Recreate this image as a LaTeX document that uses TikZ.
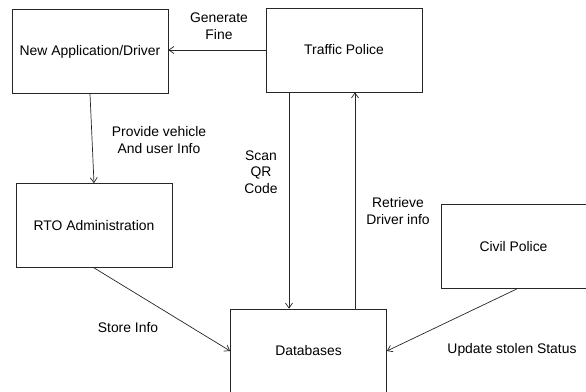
\documentclass[tikz,border=0pt]{standalone}
\usepackage{fontspec}
\setmainfont{Liberation Sans}
\usetikzlibrary{arrows.meta}
\begin{document}
\begin{tikzpicture}[x=1pt,y=-1pt,
  box/.style={draw=black!85,line width=0.7pt,minimum width=156pt,minimum height=84pt,inner sep=0pt,font=\fontsize{13.9}{16.5}\selectfont},
  lbl/.style={align=center,inner sep=0pt,font=\fontsize{13.9}{16.5}\selectfont},
  conn/.style={draw=black!85,line width=0.7pt,-{Straight Barb[length=5pt,width=7pt]}}]
\clip (0,0) rectangle (586,391);
\fill[white] (0,0) rectangle (586,391);
\node[box] (na) at (90,51.5) {New Application/Driver};
\node[box] (tp) at (344,50) {Traffic Police};
\node[box] (rto) at (94,225.5) {RTO Administration};
\node[box] (db) at (308.5,351) {Databases};
\node[box,minimum width=145pt] (cp) at (513.5,246.5) {Civil Police};
\draw[conn] (tp.west) -- (na.east |- tp.west);
\draw[conn] (na.south) -- (rto.north);
\draw[conn] (rto.south) -- (db.west);
\draw[conn] ([xshift=-55pt]tp.south) -- ([xshift=-19.5pt]db.north);
\draw[conn] ([xshift=46.5pt]db.north) -- ([xshift=11pt]tp.south);
\draw[conn] ([xshift=3.5pt]cp.south) -- (db.east);
\node[lbl] (l1) at (219,26) {Generate\\Fine};
\node[lbl] (l2) at (159,140) {Provide vehicle\\And user Info};
\node[lbl] (l3) at (261,172) {Scan\\QR\\Code};
\node[lbl] (l4) at (398,211) {Retrieve\\Driver info};
\node[lbl] (l5) at (128,328) {Store Info};
\node[lbl] (l6) at (512,350) {Update stolen Status};
\end{tikzpicture}
\end{document}
